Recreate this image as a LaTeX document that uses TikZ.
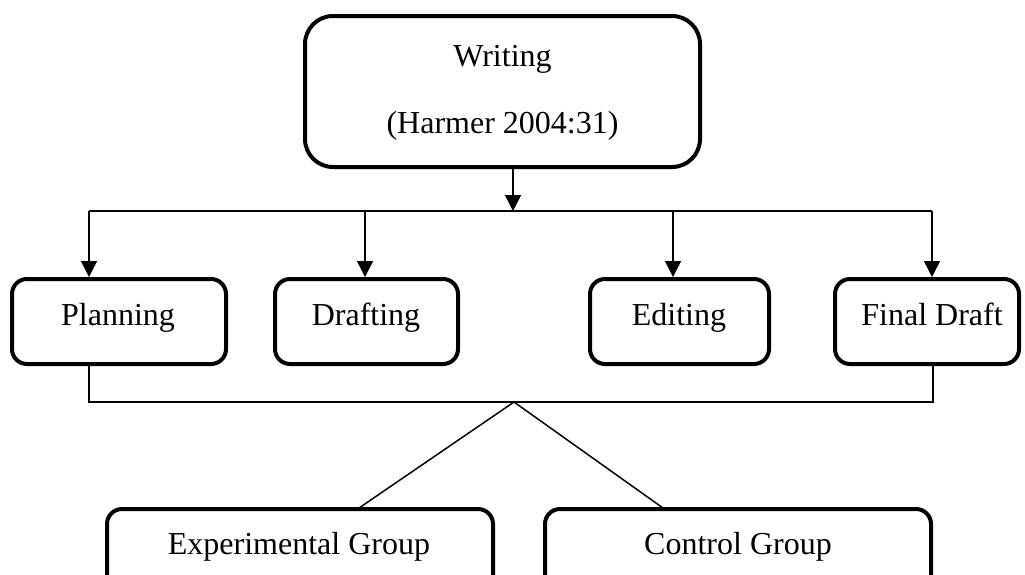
\documentclass[tikz,border=0pt]{standalone}
\usepackage{fontspec}
\setmainfont{Liberation Serif}
\usetikzlibrary{arrows.meta,calc}
\begin{document}
\begin{tikzpicture}[x=1pt,y=-1pt,
  box/.style={draw=black,line width=4pt,rounded corners=15pt,inner sep=0pt,fill=white},
  bigbox/.style={box,rounded corners=28pt},
  txt/.style={inner sep=0pt,anchor=base,font=\fontsize{32}{38}\selectfont},
  conn/.style={line width=1.5pt},
  arr/.style={conn,-{Triangle[length=16pt,width=16pt]}}]
\useasboundingbox (0,0) rectangle (1025,574);
\clip (0,0) rectangle (1025,574);
% boxes
\node[bigbox,minimum width=395pt,minimum height=151pt] (writing) at (502.5,91.5) {};
\node[box,minimum width=214pt,minimum height=85pt] (plan) at (119,321.5) {};
\node[box,minimum width=183pt,minimum height=85pt] (draft) at (366.5,321.5) {};
\node[box,minimum width=179pt,minimum height=85pt] (edit) at (679.5,321.5) {};
\node[box,minimum width=184pt,minimum height=85pt] (final) at (927,321.5) {};
\node[box,minimum width=386pt,minimum height=111pt] (exp) at (300,564.5) {};
\node[box,minimum width=386pt,minimum height=111pt] (ctrl) at (738,564.5) {};
% texts
\node[txt] (writingT) at (502.5,66) {Writing};
\node[txt] (harmerT) at (502.5,133) {(Harmer 2004:31)};
\node[txt] (planT) at (118,325) {Planning};
\node[txt] (draftT) at (366,325) {Drafting};
\node[txt] (editT) at (679,325) {Editing};
\node[txt] (finalT) at (932,325) {Final Draft};
\node[txt] (expT) at (299,554) {Experimental Group};
\node[txt] (ctrlT) at (738,554) {Control Group};
% top connectors
\coordinate (top) at (513,211);
\coordinate (pa) at (89,211);
\coordinate (da) at (365,211);
\coordinate (ea) at (673,211);
\coordinate (fa) at (932,211);
\draw[arr] (top |- writing.south) -- (top);
\draw[conn] (pa) -- (fa);
\draw[arr] (pa) -- (pa |- plan.north);
\draw[arr] (da) -- (da |- draft.north);
\draw[arr] (ea) -- (ea |- edit.north);
\draw[arr] (fa) -- (fa |- final.north);
% bottom connectors
\coordinate (bl) at (89,402);
\coordinate (br) at (933,402);
\coordinate (apex) at (514,402);
\coordinate (el) at (359,508);
\coordinate (cr) at (663,508);
\draw[conn] (bl |- plan.south) -- (bl) -- (br) -- (br |- final.south);
\draw[conn] (apex) -- (el);
\draw[conn] (apex) -- (cr);
\end{tikzpicture}
\end{document}
